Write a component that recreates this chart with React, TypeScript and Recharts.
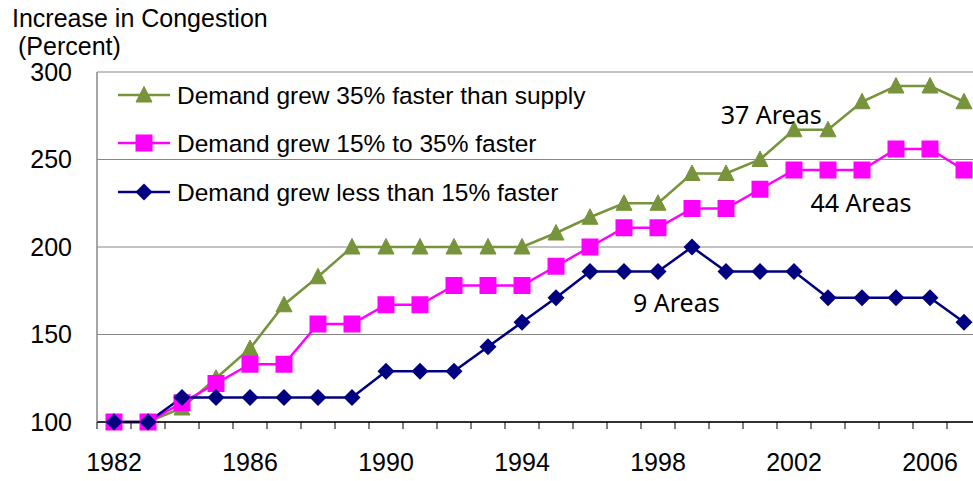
import React from 'react';
import { LineChart, Line, XAxis, YAxis, CartesianGrid, Legend, ReferenceDot } from 'recharts';

const years = [1982, 1983, 1984, 1985, 1986, 1987, 1988, 1989, 1990, 1991, 1992, 1993, 1994, 1995, 1996, 1997, 1998, 1999, 2000, 2001, 2002, 2003, 2004, 2005, 2006, 2007];
const fasterThanSupply = [100, 100, 108, 125, 142, 167, 183, 200, 200, 200, 200, 200, 200, 208, 217, 225, 225, 242, 242, 250, 267, 267, 283, 292, 292, 283];
const midFaster = [100, 100, 111, 122, 133, 133, 156, 156, 167, 167, 178, 178, 178, 189, 200, 211, 211, 222, 222, 233, 244, 244, 244, 256, 256, 244];
const lessFaster = [100, 100, 114, 114, 114, 114, 114, 114, 129, 129, 129, 143, 157, 171, 186, 186, 186, 200, 186, 186, 186, 171, 171, 171, 171, 157];

const seriesKeys = ['green', 'pink', 'navy'];
const seriesNames: Record<string, string> = {
  green: 'Demand grew 35% faster than supply',
  pink: 'Demand grew 15% to 35% faster',
  navy: 'Demand grew less than 15% faster',
};
const yTicks = [100, 150, 200, 250, 300];
const xLabelTicks = [1982, 1986, 1990, 1994, 1998, 2002, 2006];
const xBoundaryTicks = [...years.map((y) => y - 0.5), years[years.length - 1] + 0.5];
const xAllTicks = [...xBoundaryTicks, ...xLabelTicks].sort((a, b) => a - b);

const annotations = [
  { text: '37 Areas', year: 2001.33, value: 275.4 },
  { text: '44 Areas', year: 2003.97, value: 225.1 },
  { text: '9 Areas', year: 1998.54, value: 168 },
];

const data = years.map((year, i) => ({
  year,
  green: fasterThanSupply[i],
  pink: midFaster[i],
  navy: lessFaster[i],
}));

const COLORS: Record<string, string> = { green: '#77933C', pink: '#FF00FF', navy: '#000080' };
const FONT = '"Liberation Sans", Arial, sans-serif';

function marker(kind: string, cx: number, cy: number, key?: any) {
  const c = COLORS[kind];
  if (kind === 'green') {
    return <polygon key={key} points={`${cx},${cy - 8.5} ${cx + 8},${cy + 7} ${cx - 8},${cy + 7}`} fill={c} stroke={c} />;
  }
  if (kind === 'pink') {
    return <rect key={key} x={cx - 8.5} y={cy - 8.5} width={17} height={17} fill={c} />;
  }
  return <polygon key={key} points={`${cx},${cy - 8.5} ${cx + 8.5},${cy} ${cx},${cy + 8.5} ${cx - 8.5},${cy}`} fill={c} />;
}

const makeDot = (kind: string) => (props: any) => {
  const { cx, cy, index } = props;
  if (cx == null || cy == null) return <g key={`${kind}-${index}`} />;
  return marker(kind, cx, cy, `${kind}-${index}`);
};

const renderLegend = () => {
  const rowsY = [95, 143, 192];
  return (
    <svg width={700} height={230} style={{ display: 'block' }}>
      {seriesKeys.map((kind, i) => {
        const y = rowsY[i];
        return (
          <g key={kind}>
            <line x1={118} x2={170} y1={y} y2={y} stroke={COLORS[kind]} strokeWidth={2.5} />
            {marker(kind, 144, y)}
            <text x={177} y={y + 8.5} fontSize={24.5} fontFamily={FONT} fill="#000">
              {seriesNames[kind]}
            </text>
          </g>
        );
      })}
    </svg>
  );
};

const XTick = (props: any) => {
  const { x, y, payload } = props;
  const v = payload.value;
  if (xLabelTicks.includes(v)) {
    return (
      <text x={x} y={y + 31.5} dy="0.71em" textAnchor="middle" fontSize={25} fontFamily={FONT} fill="#000">
        {v}
      </text>
    );
  }
  return <line x1={x} x2={x} y1={y} y2={y + 7} stroke="#000" strokeWidth={1} />;
};

export default function App() {
  return (
    <div style={{ position: 'absolute', left: 0, top: 0, width: 973, height: 481, overflow: 'hidden', background: '#fff', fontFamily: FONT }}>
      <LineChart width={990} height={481} data={data} margin={{ top: 72, right: 9, bottom: 0, left: 0 }}>
        <CartesianGrid vertical={false} stroke="#878787" strokeWidth={1.2} />
        <XAxis
          dataKey="year"
          type="number"
          domain={[1981.5, 2007.5]}
          ticks={xAllTicks}
          interval={0}
          tick={<XTick />}
          tickLine={false}
          tickSize={0}
          tickMargin={0}
          axisLine={{ stroke: '#000', strokeWidth: 1.5 }}
          height={59}
          allowDataOverflow
        />
        <YAxis
          domain={[100, 300]}
          ticks={yTicks}
          interval={0}
          width={97}
          tickLine={false}
          tickSize={8}
          tickMargin={17}
          axisLine={{ stroke: '#878787', strokeWidth: 1.5 }}
          tick={{ fontSize: 25, fill: '#000', fontFamily: FONT }}
        />
        <Legend
          content={renderLegend}
          layout="vertical"
          align="center"
          verticalAlign="middle"
          wrapperStyle={{ position: 'absolute', left: 0, top: 0, width: 700, height: 230 }}
        />
        <Line dataKey="green" name={seriesNames.green} stroke={COLORS.green} strokeWidth={2.5} dot={makeDot('green')} isAnimationActive={false} />
        <Line dataKey="pink" name={seriesNames.pink} stroke={COLORS.pink} strokeWidth={2.5} dot={makeDot('pink')} isAnimationActive={false} />
        <Line dataKey="navy" name={seriesNames.navy} stroke={COLORS.navy} strokeWidth={2.5} dot={makeDot('navy')} isAnimationActive={false} />
        {annotations.map((a) => (
          <ReferenceDot
            key={a.text}
            x={a.year}
            y={a.value}
            r={0}
            fill="none"
            stroke="none"
            label={{ value: a.text, position: 'center', fontSize: 25, fontFamily: '"Noto Sans", sans-serif', fill: '#000' }}
          />
        ))}
      </LineChart>
      <svg width={400} height={70} style={{ position: 'absolute', left: 0, top: 0, pointerEvents: 'none' }}>
        <text x={12} y={27} fontSize={25} fontFamily={FONT} fill="#000">Increase in Congestion</text>
        <text x={18} y={55} fontSize={25} fontFamily={FONT} fill="#000">(Percent)</text>
      </svg>
    </div>
  );
}
